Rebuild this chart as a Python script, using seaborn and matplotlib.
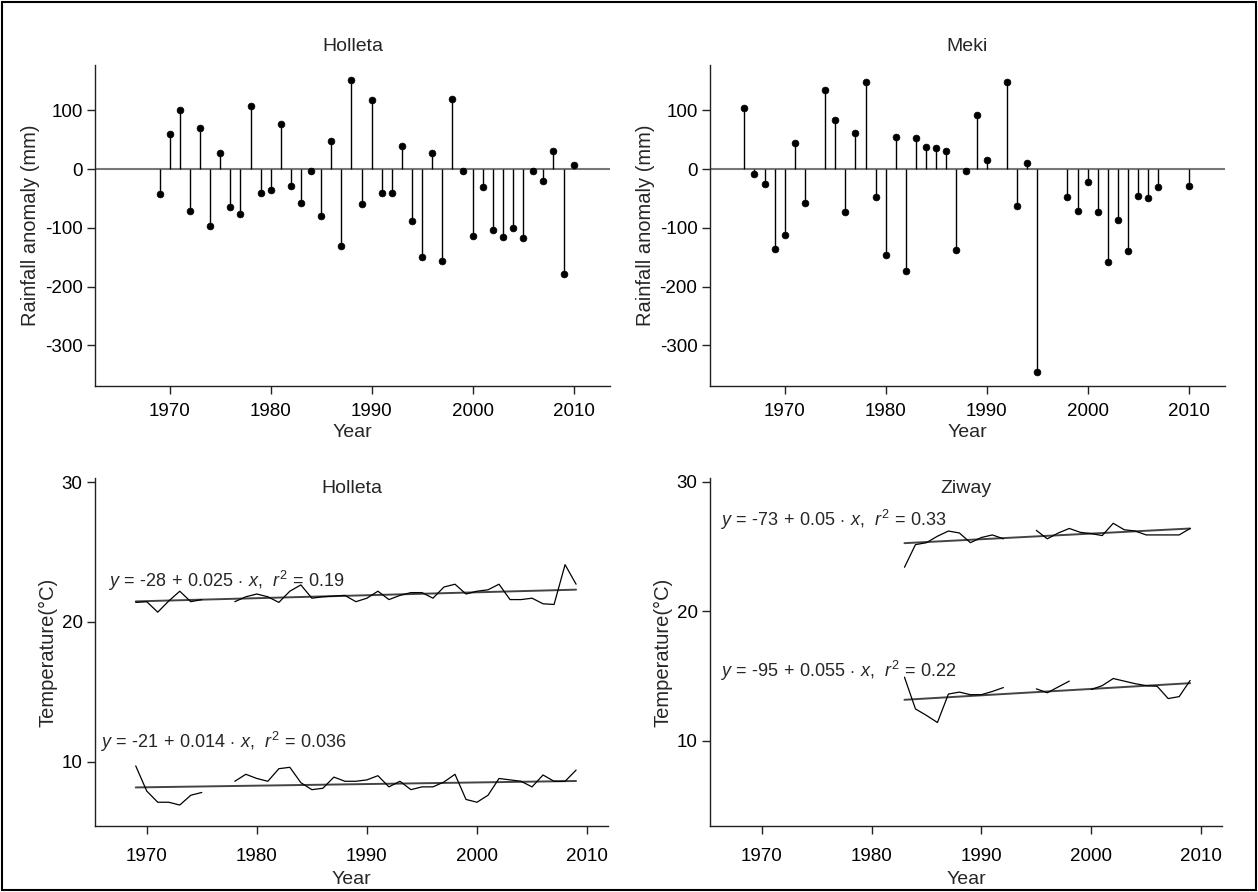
import numpy as np
import pandas as pd
import matplotlib
matplotlib.use("Agg")
import matplotlib.pyplot as plt
import seaborn as sns
from matplotlib.patches import Rectangle

# ---- rainfall anomaly (mm) ----
holleta_rain_years = list(range(1969, 2011))
holleta_rain = [-42, 60, 101, -71, 69, -96, 27, -64, -76, 107, -40, -35, 77, -28,
                -57, -4, -80, 48, -131, 151, -59, 117, -40, -40, 40, -89, -149, 28,
                -156, 119, -3, -114, -30, -104, -115, -100, -118, -3, -20, 31, -178, 7]

meki_rain_years = [1966, 1967, 1968, 1969, 1970, 1971, 1972, 1974, 1975, 1976, 1977,
                   1978, 1979, 1980, 1981, 1982, 1983, 1984, 1985, 1986, 1987, 1988,
                   1989, 1990, 1992, 1993, 1994, 1995, 1998, 1999, 2000, 2001, 2002,
                   2003, 2004, 2005, 2006, 2007, 2010]
meki_rain = [104, -9, -26, -136, -113, 45, -58, 134, 83, -73, 62, 148, -47, -146, 54,
             -173, 52, 37, 35, 31, -137, -4, 92, 15, 148, -63, 11, -346, -47, -71, -22,
             -73, -158, -87, -140, -46, -49, -30, -28]

# ---- temperature (deg C), NaN = missing year ----
holleta_temp_years = list(range(1969, 2010))
holleta_tmax = [21.4, 21.45, 20.7, 21.5, 22.2, 21.45, 21.6, np.nan, np.nan, 21.45,
                21.8, 22.0, 21.8, 21.4, 22.2, 22.65, 21.7, 21.8, 21.85, 21.9, 21.45,
                21.7, 22.2, 21.6, 21.9, 22.1, 22.1, 21.7, 22.5, 22.7, 22.0, 22.2,
                22.3, 22.7, 21.6, 21.6, 21.7, 21.3, 21.25, 24.1, 22.7]
holleta_tmin = [9.7, 7.9, 7.1, 7.1, 6.9, 7.6, 7.8, np.nan, np.nan, 8.6, 9.1, 8.8,
                8.6, 9.5, 9.6, 8.5, 8.0, 8.1, 8.9, 8.6, 8.6, 8.7, 9.0, 8.2, 8.6, 8.0,
                8.2, 8.2, 8.55, 9.1, 7.3, 7.1, 7.6, 8.8, 8.7, 8.6, 8.2, 9.05, 8.6,
                8.6, 9.4]

ziway_temp_years = list(range(1983, 2010))
ziway_tmax = [23.4, 25.15, 25.3, 25.8, 26.2, 26.05, 25.3, 25.7, 25.9, 25.6, np.nan,
              np.nan, 26.25, 25.6, 26.05, 26.4, 26.1, 26.0, 25.85, 26.8, 26.3, 26.2,
              25.9, 25.9, 25.9, 25.9, 26.4]
ziway_tmin = [14.9, 12.45, 11.95, 11.4, 13.6, 13.75, 13.55, 13.55, 13.8, 14.1,
              np.nan, np.nan, 14.0, 13.7, 14.15, 14.6, np.nan, 13.95, 14.25, 14.8,
              14.6, 14.4, 14.25, 14.2, 13.25, 13.4, 14.65]

eq_holleta_tmax = ["-28", "0.025", "0.19"]
eq_holleta_tmin = ["-21", "0.014", "0.036"]
eq_ziway_tmax = ["-73", "0.05", "0.33"]
eq_ziway_tmin = ["-95", "0.055", "0.22"]

sns.set_style("ticks")
plt.rcParams["font.family"] = ["Liberation Sans", "DejaVu Sans"]
plt.rcParams["mathtext.fontset"] = "custom"
plt.rcParams["mathtext.rm"] = "Liberation Sans"
plt.rcParams["mathtext.it"] = "Liberation Sans:italic"
plt.rcParams["axes.unicode_minus"] = False

FS = 14
W, H = 1258, 892


def eq_text(parts):
    a, b, r2 = parts
    return (r"$y\,=\,$" + a + r"$\,+\,$" + b + r"$\,\cdot\,x$,  $r^2\,=\,$" + r2)


def make_ax(fig, x0, y0, x1, y1):
    return fig.add_axes([x0 / W, 1 - y1 / H, (x1 - x0) / W, (y1 - y0) / H])


def style_ax(ax, xpad):
    sns.despine(ax=ax)
    for s in ["left", "bottom"]:
        ax.spines[s].set_linewidth(1.0)
        ax.spines[s].set_color("#222222")
    ax.tick_params(direction="out", length=6, width=1, labelsize=FS - 0.5,
                   colors="#222222", labelcolor="black")
    ax.tick_params(axis="x", pad=xpad)
    ax.tick_params(axis="y", pad=3)


def rain_panel(ax, years, vals, title):
    df = pd.DataFrame({"year": years, "anom": vals})
    ax.axhline(0, color="#777777", lw=1.5, zorder=1)
    ax.vlines(df["year"], 0, df["anom"], color="black", lw=1.0, zorder=2)
    sns.scatterplot(data=df, x="year", y="anom", ax=ax, color="black", s=24,
                    marker="o", edgecolor="black", linewidth=0.5, zorder=3)
    ax.set_xlim(1962.6, 2013.6)
    ax.set_ylim(-369, 177)
    ax.set_xticks([1970, 1980, 1990, 2000, 2010])
    ax.set_yticks([100, 0, -100, -200, -300])
    ax.set_xlabel("Year", fontsize=FS, labelpad=3)
    ax.set_ylabel("Rainfall anomaly (mm)", fontsize=FS + 0.5, labelpad=3)
    ax.set_title(title, fontsize=FS, pad=10)
    style_ax(ax, 6)


def temp_series(ax, years, vals):
    df = pd.DataFrame({"year": years, "t": vals})
    df["seg"] = df["t"].isna().cumsum()
    df = df.dropna()
    sns.lineplot(data=df, x="year", y="t", units="seg", estimator=None, ax=ax,
                 color="black", lw=0.9, zorder=3)
    sns.regplot(data=df, x="year", y="t", ax=ax, scatter=False, ci=None,
                truncate=True, line_kws={"color": "#444444", "lw": 1.4, "zorder": 2})


def temp_panel(ax, series, title, ylim, eqs):
    for years, vals in series:
        temp_series(ax, years, vals)
    for (tx, ty, parts) in eqs:
        ax.text(tx, ty, eq_text(parts), fontsize=13, ha="left", va="baseline")
    ax.set_xlim(1965.3, 2011.9)
    ax.set_ylim(*ylim)
    ax.set_xticks([1970, 1980, 1990, 2000, 2010])
    ax.set_yticks([10, 20, 30])
    ax.set_xlabel("Year", fontsize=FS, labelpad=4)
    ax.set_ylabel("Temperature(°C)", fontsize=FS + 0.5, labelpad=3)
    ax.text(0.5, 1 - 15 / 348, title, transform=ax.transAxes, fontsize=FS,
            ha="center", va="baseline")
    style_ax(ax, 10)


fig = plt.figure(figsize=(W / 100, H / 100), dpi=100)

ax1 = make_ax(fig, 95, 65, 610, 386)
rain_panel(ax1, holleta_rain_years, holleta_rain, "Holleta")
ax2 = make_ax(fig, 710, 65, 1225, 386)
rain_panel(ax2, meki_rain_years, meki_rain, "Meki")

ax3 = make_ax(fig, 95, 478, 608, 826)
temp_panel(ax3, [(holleta_temp_years, holleta_tmax), (holleta_temp_years, holleta_tmin)],
           "Holleta", (5.4, 30.3),
           [(1966.5, 22.5, eq_holleta_tmax), (1965.75, 11.0, eq_holleta_tmin)])
ax4 = make_ax(fig, 710, 478, 1222, 826)
temp_panel(ax4, [(ziway_temp_years, ziway_tmax), (ziway_temp_years, ziway_tmin)],
           "Ziway", (3.4, 30.3),
           [(1966.25, 26.6, eq_ziway_tmax), (1966.25, 14.95, eq_ziway_tmin)])

fig.add_artist(Rectangle((2 / W, 2 / H), 1 - 4 / W, 1 - 4 / H, transform=fig.transFigure,
                         fill=False, edgecolor="black", lw=1.5))

fig.savefig("out.png", dpi=100)
